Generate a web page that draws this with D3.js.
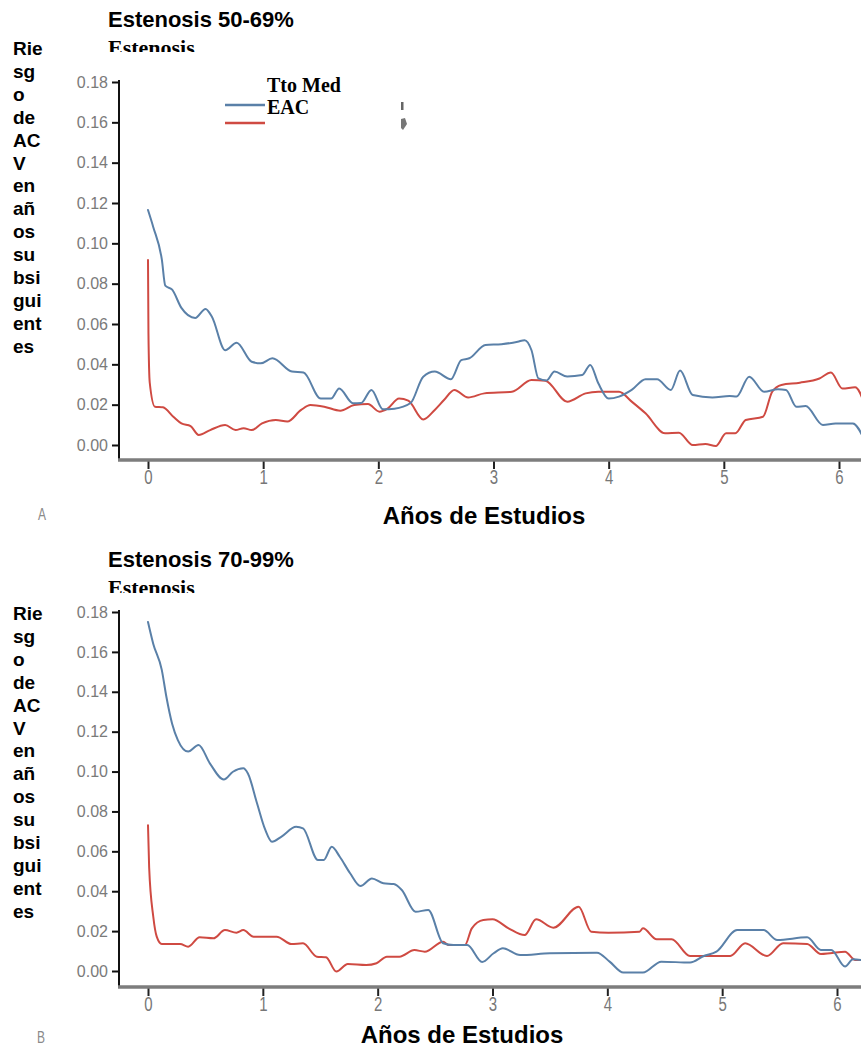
<!DOCTYPE html>
<html><head><meta charset="utf-8">
<script src="https://cdn.jsdelivr.net/npm/d3@7/dist/d3.min.js"></script>
<style>
body{margin:0;background:#fff;}
svg{display:block;}
</style></head>
<body>
<svg id="chart" width="861" height="1049"></svg>
<script>
// ---- data (years, risk) ----
const xTicks = [0,1,2,3,4,5,6];
const yTicks = [0,0.02,0.04,0.06,0.08,0.10,0.12,0.14,0.16,0.18];
const seriesNames = ["Tto Med","EAC"];
const panelTitles = ["Estenosis 50-69%","Estenosis 70-99%"];
const panelLetters = ["A","B"];
const yLabelLines = ["Rie","sg","o","de","AC","V","en","añ","os","su","bsi","gui","ent","es"];
const xTitle = "Años de Estudios";

const medA = [[0,0.1165],[0.046,0.108],[0.12,0.092],[0.15,0.079],[0.21,0.077],[0.29,0.068],[0.41,0.063],[0.50,0.0675],[0.555,0.0636],[0.67,0.047],[0.77,0.0507],[0.90,0.0413],[0.98,0.0405],[1.08,0.043],[1.25,0.0364],[1.35,0.0359],[1.50,0.023],[1.59,0.023],[1.66,0.028],[1.78,0.0207],[1.85,0.0208],[1.94,0.0273],[2.04,0.0177],[2.14,0.018],[2.28,0.0208],[2.39,0.0339],[2.49,0.0364],[2.63,0.0326],[2.72,0.0421],[2.79,0.043],[2.93,0.0496],[3.07,0.050],[3.21,0.0512],[3.27,0.052],[3.33,0.047],[3.39,0.033],[3.46,0.032],[3.53,0.0364],[3.64,0.034],[3.77,0.0347],[3.84,0.0397],[3.91,0.0306],[4.00,0.023],[4.09,0.024],[4.20,0.0273],[4.32,0.0326],[4.42,0.0326],[4.54,0.0273],[4.62,0.0369],[4.73,0.0248],[4.90,0.0236],[5.05,0.0243],[5.11,0.024],[5.22,0.0339],[5.35,0.0264],[5.47,0.0276],[5.54,0.0273],[5.63,0.019],[5.71,0.0193],[5.86,0.0099],[5.97,0.0107],[6.12,0.0107],[6.22,0.0025]];
const eacA = [[0,0.0917],[0.004,0.055],[0.015,0.031],[0.06,0.019],[0.13,0.0187],[0.22,0.014],[0.29,0.0107],[0.37,0.0094],[0.44,0.005],[0.54,0.0074],[0.67,0.0099],[0.76,0.0074],[0.83,0.0083],[0.90,0.0074],[0.99,0.0107],[1.11,0.0124],[1.21,0.0116],[1.33,0.0174],[1.41,0.0198],[1.53,0.019],[1.67,0.017],[1.79,0.0198],[1.91,0.0203],[2.01,0.0165],[2.08,0.018],[2.18,0.023],[2.26,0.022],[2.39,0.0127],[2.49,0.0174],[2.57,0.0223],[2.66,0.0273],[2.78,0.0236],[2.92,0.0256],[3.16,0.0264],[3.33,0.0322],[3.45,0.0319],[3.64,0.0215],[3.80,0.0256],[3.91,0.0264],[4.09,0.0264],[4.20,0.0215],[4.32,0.0157],[4.49,0.0058],[4.61,0.0061],[4.73,0.0],[4.84,0.0005],[4.93,-0.0005],[5.02,0.0058],[5.10,0.0058],[5.19,0.0124],[5.34,0.014],[5.42,0.0264],[5.50,0.0298],[5.66,0.0309],[5.83,0.033],[5.93,0.0359],[6.03,0.028],[6.14,0.0286],[6.22,0.0207]];
const medB = [[0,0.175],[0.046,0.164],[0.12,0.151],[0.16,0.1375],[0.21,0.124],[0.26,0.1158],[0.35,0.110],[0.44,0.1133],[0.54,0.104],[0.66,0.096],[0.74,0.0999],[0.83,0.1016],[0.87,0.099],[0.95,0.084],[1.02,0.071],[1.08,0.0648],[1.16,0.0673],[1.29,0.0723],[1.35,0.0715],[1.48,0.0556],[1.53,0.0556],[1.60,0.0623],[1.67,0.0573],[1.76,0.049],[1.85,0.0426],[1.95,0.0464],[2.05,0.044],[2.14,0.0436],[2.21,0.0406],[2.33,0.0297],[2.44,0.0306],[2.57,0.0139],[2.66,0.013],[2.78,0.013],[2.91,0.0045],[3.01,0.0089],[3.09,0.0114],[3.24,0.008],[3.50,0.0089],[3.91,0.0092],[4.02,0.0047],[4.14,-0.0008],[4.31,-0.0008],[4.47,0.0047],[4.72,0.0042],[4.84,0.0075],[4.95,0.0097],[5.13,0.0205],[5.36,0.0205],[5.48,0.0155],[5.74,0.0169],[5.86,0.0105],[5.95,0.0105],[6.07,0.0022],[6.14,0.0059],[6.21,0.0055]];
const eacB = [[0,0.0731],[0.01,0.052],[0.046,0.0272],[0.076,0.0172],[0.12,0.0135],[0.28,0.0135],[0.35,0.0122],[0.45,0.0169],[0.57,0.0164],[0.67,0.0205],[0.77,0.0192],[0.83,0.0205],[0.92,0.0172],[1.12,0.0172],[1.25,0.0135],[1.35,0.0139],[1.47,0.0072],[1.55,0.0069],[1.64,-0.0003],[1.74,0.0035],[1.90,0.003],[1.99,0.0039],[2.08,0.0072],[2.19,0.0072],[2.32,0.0105],[2.41,0.0097],[2.57,0.0147],[2.62,0.013],[2.76,0.013],[2.82,0.0214],[2.92,0.0256],[3.0,0.0259],[3.14,0.0214],[3.28,0.018],[3.38,0.0259],[3.53,0.0217],[3.75,0.0322],[3.86,0.0197],[4.01,0.0192],[4.28,0.0197],[4.31,0.0214],[4.43,0.0159],[4.56,0.0159],[4.72,0.0075],[4.89,0.0075],[5.07,0.0075],[5.20,0.0139],[5.39,0.0075],[5.53,0.0139],[5.74,0.0135],[5.86,0.0085],[5.94,0.0089],[6.07,0.0097],[6.16,0.0055],[6.22,0.0055]];

// ---- layout ----
const colors = {med:"#5a80a8", eac:"#cf4a42"};
const sans = "'Liberation Sans', Arial, sans-serif";
const serif = "'Liberation Serif', 'Times New Roman', serif";
const svg = d3.select("#chart");

const panels = [
  {med:medA, eac:eacA, x0:148, x6:839, y0:445, y18:82, axisY:460, titleY:27, subY:55, subClip:52,
   ylabY:55, letterY:520, letterX:38, xtitleX:484, xtitleY:524, legend:true},
  {med:medB, eac:eacB, x0:148, x6:837, y0:971, y18:612, axisY:987, titleY:567, subY:595, subClip:593,
   ylabY:620, letterY:1043, letterX:37, xtitleX:462, xtitleY:1043, legend:false}
];

panels.forEach((p, i) => {
  const g = svg.append("g");
  const left = 119, right = 861;
  const x = d3.scaleLinear().domain([0,6]).range([p.x0, p.x6]);
  const y = d3.scaleLinear().domain([0,0.18]).range([p.y0, p.y18]);

  // title
  g.append("text").attr("x",108).attr("y",p.titleY)
    .attr("font-family",sans).attr("font-weight","bold").attr("font-size",22)
    .attr("fill","#000").text(panelTitles[i]);
  // clipped sub-title
  const cid = "subclip"+i;
  svg.append("clipPath").attr("id",cid).append("rect")
    .attr("x",100).attr("y",p.subClip-30).attr("width",200).attr("height",30);
  g.append("text").attr("x",108).attr("y",p.subY).attr("clip-path","url(#"+cid+")")
    .attr("font-family",serif).attr("font-weight","bold").attr("font-size",22)
    .attr("fill","#000").text("Estenosis");

  // y label (broken lines)
  g.append("g").selectAll("text").data(yLabelLines).join("text")
    .attr("x",13).attr("y",(d,k)=>p.ylabY + k*22.9)
    .attr("font-family",sans).attr("font-weight","bold").attr("font-size",19)
    .attr("fill","#000").text(d=>d);

  // lines
  const lid = "plotclip"+i;
  svg.append("clipPath").attr("id",lid).append("rect")
    .attr("x",left).attr("y",p.y18-10).attr("width",right-left).attr("height",p.axisY-p.y18+8);
  const line = d3.line().x(d=>x(d[0])).y(d=>y(d[1])).curve(d3.curveMonotoneX);
  const lg = g.append("g").attr("clip-path","url(#"+lid+")");
  [["eac",p.eac],["med",p.med]].forEach(([k,data])=>{
    lg.append("path").datum(data).attr("d",line)
      .attr("fill","none").attr("stroke",colors[k]).attr("stroke-width",2)
      .attr("stroke-linejoin","round").attr("stroke-linecap","round");
  });

  // y axis
  const ya = g.append("g").attr("transform",`translate(${left},0)`)
    .call(d3.axisLeft(y).tickValues(yTicks).tickSize(7).tickPadding(4).tickFormat(d3.format(".2f")));
  ya.select(".domain").remove();
  ya.selectAll(".tick line").attr("stroke","#111").attr("stroke-width",2);
  ya.selectAll(".tick text").attr("font-family",sans).attr("font-size",16).attr("fill","#7a7a7a");
  g.append("line").attr("x1",left).attr("x2",left).attr("y1",p.y18-2).attr("y2",p.axisY)
    .attr("stroke","#111").attr("stroke-width",2);

  // x axis
  const xa = g.append("g").attr("transform",`translate(0,${p.axisY-1})`)
    .call(d3.axisBottom(x).tickValues(xTicks).tickSize(10).tickPadding(0).tickFormat(d3.format("d")));
  xa.select(".domain").remove();
  xa.selectAll(".tick line").attr("stroke","#222").attr("stroke-width",2);
  xa.selectAll(".tick text").attr("font-family",sans).attr("font-size",15).attr("fill","#777")
    .attr("dy",null).attr("y",null)
    .attr("transform","translate(0,25) scale(1,1.35)");
  g.append("line").attr("x1",left-1).attr("x2",right).attr("y1",p.axisY).attr("y2",p.axisY)
    .attr("stroke","#7d7d7d").attr("stroke-width",3.5);

  // panel letter
  g.append("text").attr("transform",`translate(${p.letterX},${p.letterY}) scale(1,1.35)`)
    .attr("font-family",sans).attr("font-size",12).attr("fill","#8a8a8a").text(panelLetters[i]);

  // x title
  g.append("text").attr("x",p.xtitleX).attr("y",p.xtitleY).attr("text-anchor","middle")
    .attr("font-family",sans).attr("font-weight","bold").attr("font-size",24)
    .attr("fill","#000").text(xTitle);

  // legend
  if (p.legend) {
    const lgd = g.append("g");
    const rows = [{n:seriesNames[0], c:colors.med, ly:105, ty:92},{n:seriesNames[1], c:colors.eac, ly:123, ty:114}];
    rows.forEach(r=>{
      lgd.append("line").attr("x1",225).attr("x2",265).attr("y1",r.ly).attr("y2",r.ly)
        .attr("stroke",r.c).attr("stroke-width",2.5);
    });
    rows.forEach(r=>{
      lgd.append("text").attr("x",267).attr("y",r.ty)
        .attr("font-family",serif).attr("font-weight","bold").attr("font-size",20)
        .attr("fill","#000").text(r.n);
    });
    lgd.append("rect").attr("x",401).attr("y",102).attr("width",2.5).attr("height",8).attr("fill","#666");
    lgd.append("path").attr("d","M401,119 L405,118 L407,124 L403,130 L401,128 Z").attr("fill","#777");
  }
});
</script>
</body></html>
